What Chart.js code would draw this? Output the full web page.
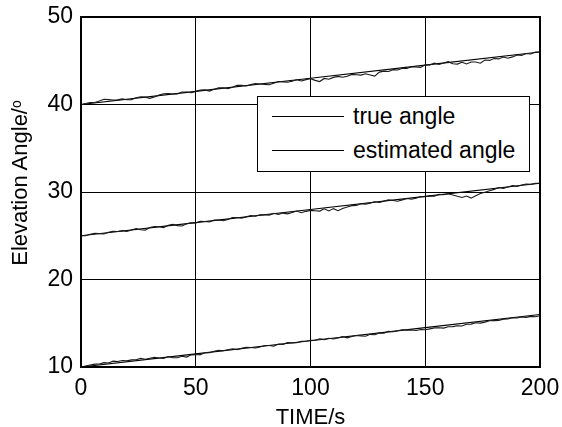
<!DOCTYPE html>
<html>
<head>
<meta charset="utf-8">
<script src="https://cdn.jsdelivr.net/npm/chart.js@4/dist/chart.umd.min.js"></script>
<style>
  html, body { margin: 0; padding: 0; background: #fff; }
  #wrap { position: relative; width: 562px; height: 427px; overflow: hidden; font-family: "Liberation Sans", Arial, sans-serif; }
  #c { position: absolute; left: 0; top: 0; }
  #ytitle { position: absolute; left: -80px; top: 171.5px; width: 200px; height: 22px; line-height: 22px; font-size: 22px; text-align: center; white-space: nowrap; transform: rotate(-90deg); transform-origin: 50% 50%; color: #000; }
  #ytitle sup { font-size: 14px; vertical-align: 0.45em; line-height: 0; }
  #legend { position: absolute; left: 257px; top: 96px; width: 273px; height: 76px; box-sizing: border-box; border: 1px solid #000; background: #fff; }
  .row { position: absolute; left: 0; height: 30px; width: 271px; }
  .row .ln { position: absolute; left: 14px; top: 14.5px; width: 72px; height: 0; border-top: 1px solid #000; }
  .row .tx { position: absolute; left: 95px; top: 0; height: 30px; line-height: 30px; font-size: 23px; color: #000; white-space: nowrap; }
</style>
</head>
<body>
<div id="wrap">
  <canvas id="c" width="562" height="427"></canvas>
  <div id="ytitle">Elevation Angle/<sup>o</sup></div>
  <div id="legend">
    <div class="row" style="top:4px"><div class="ln"></div><div class="tx" id="lg0"></div></div>
    <div class="row" style="top:38px"><div class="ln"></div><div class="tx" id="lg1"></div></div>
  </div>
</div>
<script>
// ---- data ----
const seriesNames = ["true angle", "estimated angle"];
const xTicks = [0, 50, 100, 150, 200];
const yTicks = [10, 20, 30, 40, 50];

const trueTimes = [0, 50, 100, 150, 200];
const trueHigh = [40.0, 41.5, 43.0, 44.5, 46.0];
const trueMid  = [25.0, 26.5, 28.0, 29.5, 31.0];
const trueLow  = [10.0, 11.5, 13.0, 14.5, 16.0];

const estTimes = [0,2,4,6,8,10,12,14,16,18,20,22,24,26,28,30,32,34,36,38,40,42,44,46,48,50,52,54,56,58,60,62,64,66,68,70,72,74,76,78,80,82,84,86,88,90,92,94,96,98,100,102,104,106,108,110,112,114,116,118,120,122,124,126,128,130,132,134,136,138,140,142,144,146,148,150,152,154,156,158,160,162,164,166,168,170,172,174,176,178,180,182,184,186,188,190,192,194,196,198,200];

const estHigh = [40.00,40.11,40.22,40.23,40.39,40.60,40.56,40.52,40.53,40.64,40.55,
  40.56,40.77,40.88,40.84,40.70,40.86,41.07,41.23,41.24,41.20,
  41.21,41.42,41.43,41.34,41.50,41.66,41.67,41.53,41.74,41.90,
  41.91,41.82,41.98,42.19,42.20,42.11,42.27,42.38,42.34,42.30,
  42.26,42.42,42.63,42.59,42.55,42.66,42.82,42.68,42.84,42.95,
  42.76,42.62,42.98,42.89,43.10,43.21,43.12,43.23,43.44,43.40,
  43.36,43.52,43.38,43.24,43.70,43.81,43.77,43.98,43.94,44.15,
  44.11,44.32,44.28,44.24,44.55,44.51,44.72,44.58,44.74,44.90,
  44.66,44.62,44.83,44.64,44.85,44.86,44.72,45.08,45.04,45.25,
  45.21,45.42,45.28,45.44,45.65,45.61,45.82,45.78,45.99,46.00];

const estMid = [25.00,25.01,25.17,25.28,25.24,25.20,25.41,25.52,25.48,25.59,25.50,
  25.66,25.82,25.68,25.64,25.95,26.06,26.02,25.93,26.19,26.30,
  26.16,26.12,26.38,26.49,26.45,26.66,26.62,26.58,26.79,26.80,
  26.71,26.87,27.08,27.09,27.00,27.16,27.32,27.23,27.39,27.40,
  27.36,27.57,27.43,27.59,27.50,27.66,27.82,27.63,27.79,27.90,
  27.86,27.82,28.08,27.84,28.10,27.86,28.12,28.28,28.44,28.45,
  28.66,28.62,28.73,28.89,28.80,28.96,29.12,29.03,28.94,29.10,
  29.26,29.17,29.28,29.49,29.45,29.56,29.52,29.73,29.69,29.80,
  29.66,29.52,29.38,29.54,29.30,29.56,29.82,29.98,30.14,30.30,
  30.51,30.42,30.58,30.74,30.65,30.81,30.92,30.88,30.99,31.00];

const estLow = [10.00,10.11,10.22,10.33,10.34,10.50,10.46,10.67,10.63,10.74,10.70,
  10.81,10.82,10.98,10.89,11.00,11.11,11.02,10.98,11.19,11.05,
  11.06,11.22,11.13,11.39,11.40,11.41,11.62,11.63,11.79,11.90,
  11.86,11.97,12.08,11.99,12.15,12.26,12.22,12.18,12.29,12.45,
  12.46,12.37,12.63,12.59,12.80,12.76,12.77,12.93,12.94,13.05,
  13.06,13.22,13.13,13.29,13.20,13.31,13.47,13.33,13.49,13.60,
  13.56,13.52,13.73,13.69,13.90,13.86,14.07,14.03,14.14,14.25,
  14.21,14.22,14.18,14.29,14.25,14.36,14.47,14.48,14.44,14.60,
  14.61,14.72,14.68,14.89,14.90,15.06,15.02,15.13,15.29,15.30,
  15.31,15.47,15.48,15.64,15.60,15.71,15.67,15.78,15.74,15.85];

// ---- build ----
document.getElementById('lg0').textContent = seriesNames[0];
document.getElementById('lg1').textContent = seriesNames[1];

function pts(xs, ys) { return xs.map((x, i) => ({ x: x, y: ys[i] })); }

Chart.defaults.color = '#000';
Chart.defaults.font.family = '"Liberation Sans", Arial, sans-serif';

const lineStyle = (col) => ({ borderColor: col, backgroundColor: col, borderWidth: 1.1, pointRadius: 0, tension: 0, fill: false });

const framePlugin = {
  id: 'frame',
  afterDraw(chart) {
    const a = chart.chartArea, ctx = chart.ctx;
    ctx.save();
    ctx.strokeStyle = '#000';
    ctx.lineWidth = 2;
    ctx.strokeRect(a.left, a.top, a.right - a.left, a.bottom - a.top);
    ctx.restore();
  }
};

new Chart(document.getElementById('c'), {
  type: 'line',
  data: {
    datasets: [
      Object.assign({ label: seriesNames[1], data: pts(estTimes, estHigh) }, lineStyle('#1a1a1a')),
      Object.assign({ label: seriesNames[1], data: pts(estTimes, estMid) }, lineStyle('#1a1a1a')),
      Object.assign({ label: seriesNames[1], data: pts(estTimes, estLow) }, lineStyle('#1a1a1a')),
      Object.assign({ label: seriesNames[0], data: pts(trueTimes, trueHigh) }, lineStyle('#000')),
      Object.assign({ label: seriesNames[0], data: pts(trueTimes, trueMid) }, lineStyle('#000')),
      Object.assign({ label: seriesNames[0], data: pts(trueTimes, trueLow) }, lineStyle('#000'))
    ]
  },
  options: {
    responsive: false,
    animation: false,
    devicePixelRatio: 1,
    layout: { padding: { top: 17, right: 22, bottom: 0, left: 0 } },
    plugins: { legend: { display: false }, tooltip: { enabled: false } },
    scales: {
      x: {
        type: 'linear', min: 0, max: 200,
        afterBuildTicks: (s) => { s.ticks = xTicks.map(v => ({ value: v })); },
        afterFit: (s) => { s.height = 60; s.paddingLeft = 0; s.paddingRight = 0; },
        grid: { color: '#000', lineWidth: 1, drawTicks: false },
        border: { display: false },
        ticks: { padding: 8, maxRotation: 0, font: { size: 23 }, color: '#000' },
        title: { display: true, text: 'TIME/s', font: { size: 22, lineHeight: 0.8 }, color: '#000', padding: 0 }
      },
      y: {
        type: 'linear', min: 10, max: 50,
        afterBuildTicks: (s) => { s.ticks = yTicks.map(v => ({ value: v })); },
        afterFit: (s) => { s.width = 81; s.paddingTop = 0; s.paddingBottom = 0; },
        grid: { color: '#000', lineWidth: 1, drawTicks: false },
        border: { display: false },
        ticks: { padding: 8, font: { size: 23 }, color: '#000' }
      }
    }
  },
  plugins: [framePlugin]
});
</script>
</body>
</html>
